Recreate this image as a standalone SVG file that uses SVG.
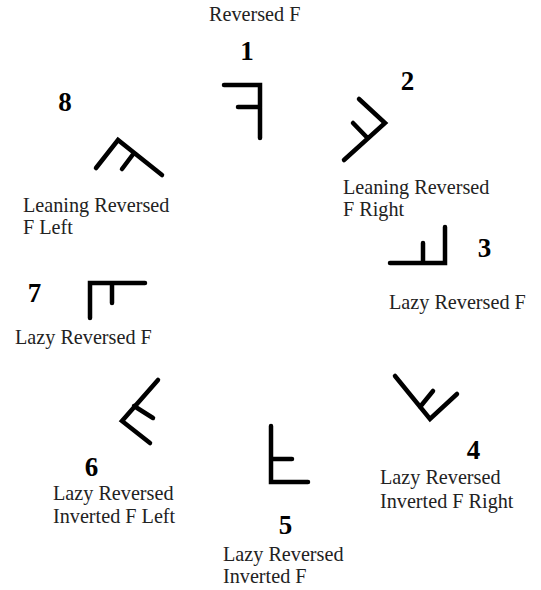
<svg xmlns="http://www.w3.org/2000/svg" width="541" height="590" viewBox="0 0 541 590">
<style>
.g{fill:none;stroke:#000;stroke-width:4.5;stroke-linecap:round;stroke-linejoin:miter}
.lbl{font-family:"Liberation Serif","Times New Roman",serif;font-size:20.2px;fill:#222}
.num{font-family:"Liberation Serif","Times New Roman",serif;font-size:27px;font-weight:bold;fill:#000;text-anchor:middle}
</style>
<rect width="541" height="590" fill="#fff"/>
<g id="n1">
<text class="lbl" x="209" y="21">Reversed F</text>
<text class="num" x="247" y="60">1</text>
<path class="g" d="M224 85 H260 V138 M238 107 H260"/>
</g>
<g id="n2">
<text class="num" x="407.500" y="90">2</text>
<path class="g" d="M359 99 L385 123 L344 160 M353 123 L368 138.500"/>
<text class="lbl" x="343" y="194">Leaning Reversed</text>
<text class="lbl" x="343" y="216">F Right</text>
</g>
<g id="n3">
<path class="g" d="M445 227 V263 H390 M423 243 V263"/>
<text class="num" x="484.500" y="257">3</text>
<text class="lbl" x="389" y="309">Lazy Reversed F</text>
</g>
<g id="n4">
<path class="g" d="M395 376 L430 419 L457 394 M420 407 L433 391"/>
<text class="num" x="473.500" y="459">4</text>
<text class="lbl" x="380" y="484">Lazy Reversed</text>
<text class="lbl" x="380" y="508">Inverted F Right</text>
</g>
<g id="n5">
<path class="g" d="M271 426 V482 H308 M271 459 H292"/>
<text class="num" x="285.500" y="534">5</text>
<text class="lbl" x="223" y="561">Lazy Reversed</text>
<text class="lbl" x="223" y="583">Inverted F</text>
</g>
<g id="n6">
<path class="g" d="M158 380 L122 421 L150 443 M134 406 L153 418"/>
<text class="num" x="91.500" y="476">6</text>
<text class="lbl" x="53" y="500">Lazy Reversed</text>
<text class="lbl" x="53" y="523">Inverted F Left</text>
</g>
<g id="n7">
<text class="num" x="34.500" y="302">7</text>
<path class="g" d="M90 318 V283 H145 M112 283 V303"/>
<text class="lbl" x="15" y="344">Lazy Reversed F</text>
</g>
<g id="n8">
<text class="num" x="65" y="111">8</text>
<path class="g" d="M96 168 L118 140 L162 175 M134 153 L122 169"/>
<text class="lbl" x="23" y="212">Leaning Reversed</text>
<text class="lbl" x="23" y="234">F Left</text>
</g>
<g id="connectors"></g>
</svg>
